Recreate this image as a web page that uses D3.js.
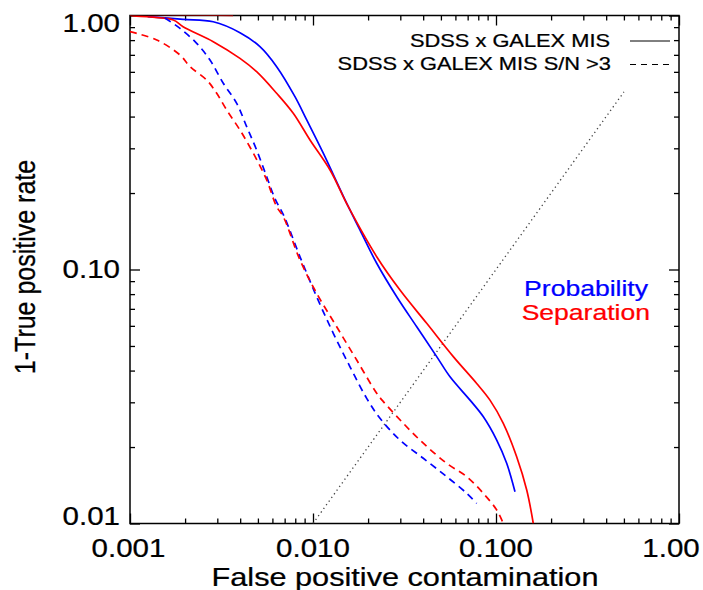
<!DOCTYPE html>
<html>
<head>
<meta charset="utf-8">
<script src="https://cdn.jsdelivr.net/npm/d3@7"></script>
<style>
  body { margin: 0; background: #fff; }
  text { font-family: "Liberation Sans", Arial, sans-serif; }
</style>
</head>
<body>
<div id="chart"></div>
<script>
// tick values and labels
var xTicks = [0.001, 0.01, 0.1, 1];
var xTickLabels = ["0.001", "0.010", "0.100", "1.00"];
var yTicks = [0.01, 0.1, 1];
var yTickLabels = ["0.01", "0.10", "1.00"];

// [false positive contamination, 1 - true positive rate]
var probAll = [[0.00125, 0.99], [0.00195, 0.966], [0.00285, 0.945], [0.00399, 0.856],
  [0.00513, 0.754], [0.00633, 0.629], [0.00797, 0.479], [0.00924, 0.388],
  [0.01138, 0.287], [0.01529, 0.182], [0.01807, 0.143], [0.02229, 0.1058],
  [0.02868, 0.0781], [0.03688, 0.0595], [0.04742, 0.0454], [0.05608, 0.0378],
  [0.07211, 0.0306], [0.0853, 0.0263], [0.1009, 0.0213], [0.1144, 0.01726],
  [0.127, 0.01334]];

var sepAll = [[0.00366, 1.0], [0.001, 1.0], [0.001724, 0.96], [0.00195, 0.903],
  [0.00285, 0.789], [0.00399, 0.678], [0.00492, 0.601], [0.00633, 0.494],
  [0.0078, 0.412], [0.00963, 0.3236], [0.01239, 0.2465], [0.01559, 0.1767],
  [0.02229, 0.1123], [0.02988, 0.083], [0.04181, 0.0614], [0.05843, 0.0454],
  [0.07842, 0.0356], [0.0927, 0.0306], [0.1096, 0.0248], [0.1297, 0.01832],
  [0.1472, 0.01355], [0.1599, 0.01]];

var probSN3 = [[0.00155, 0.977], [0.001876, 0.89], [0.002314, 0.777], [0.002736, 0.668],
  [0.003234, 0.541], [0.003829, 0.451], [0.004341, 0.365], [0.00492, 0.2954],
  [0.005585, 0.2319], [0.0062, 0.19], [0.00694, 0.1624], [0.00849, 0.1123],
  [0.01047, 0.0781], [0.01291, 0.0561], [0.01593, 0.0414], [0.01965, 0.0311],
  [0.02323, 0.02596], [0.02988, 0.0213], [0.04006, 0.01806], [0.05377, 0.01529],
  [0.06917, 0.01315], [0.07842, 0.012]];

var sepSN3 = [[0.001, 0.864], [0.0014, 0.801], [0.001876, 0.699], [0.002128, 0.629],
  [0.002625, 0.557], [0.002977, 0.494], [0.003376, 0.4246], [0.00399, 0.354],
  [0.004718, 0.287], [0.005585, 0.2251], [0.00633, 0.1767], [0.00688, 0.1614],
  [0.00849, 0.109], [0.01047, 0.0806], [0.01347, 0.0595], [0.01733, 0.044],
  [0.02229, 0.03256], [0.02423, 0.0302], [0.03114, 0.0248], [0.04006, 0.0207],
  [0.05377, 0.01726], [0.06917, 0.01529], [0.0852, 0.01315], [0.1009, 0.0113],
  [0.1096, 0.01]];

var diagonal = [[0.01, 0.01], [0.5, 0.5]];

var legendLabels = ["SDSS x GALEX MIS", "SDSS x GALEX MIS S/N >3"];
var methodLabels = ["Probability", "Separation"];

var svgWidth = 703;
var svgHeight = 590;
var margin = { top: 15.5, right: 24, bottom: 66.5, left: 130 };
var width = svgWidth - margin.left - margin.right;
var height = svgHeight - margin.top - margin.bottom;
var sx = 1.18; // text is drawn a bit wider than normal

var svg = d3.select("#chart")
  .append("svg")
  .attr("width", svgWidth)
  .attr("height", svgHeight);

var chartGroup = svg.append("g")
  .attr("transform", `translate(${margin.left}, ${margin.top})`);

var x = d3.scaleLog().domain([0.001, 1]).range([0, width]);
var y = d3.scaleLog().domain([0.01, 1]).range([height, 0]);

svg.append("defs").append("clipPath").attr("id", "clip")
  .append("rect").attr("width", width).attr("height", height);

// minor + major ticks on all four sides, pointing inward
var xMinor = x.ticks().filter(d => xTicks.indexOf(d) < 0);
var yMinor = y.ticks().filter(d => yTicks.indexOf(d) < 0);

function addAxis(axis, tr) {
  var g = chartGroup.append("g").attr("transform", tr).call(axis);
  g.selectAll("text").remove();
  g.selectAll("line").attr("stroke", "#000").attr("stroke-width", 1.3);
  g.select(".domain").remove();
}
addAxis(d3.axisBottom(x).tickValues(xTicks).tickSizeInner(-10).tickSizeOuter(0), `translate(0,${height})`);
addAxis(d3.axisBottom(x).tickValues(xMinor).tickSizeInner(-5).tickSizeOuter(0), `translate(0,${height})`);
addAxis(d3.axisTop(x).tickValues(xTicks).tickSizeInner(-10).tickSizeOuter(0), "translate(0,0)");
addAxis(d3.axisTop(x).tickValues(xMinor).tickSizeInner(-5).tickSizeOuter(0), "translate(0,0)");
addAxis(d3.axisLeft(y).tickValues(yTicks).tickSizeInner(-10).tickSizeOuter(0), "translate(0,0)");
addAxis(d3.axisLeft(y).tickValues(yMinor).tickSizeInner(-5).tickSizeOuter(0), "translate(0,0)");
addAxis(d3.axisRight(y).tickValues(yTicks).tickSizeInner(-10).tickSizeOuter(0), `translate(${width},0)`);
addAxis(d3.axisRight(y).tickValues(yMinor).tickSizeInner(-5).tickSizeOuter(0), `translate(${width},0)`);

chartGroup.append("rect")
  .attr("width", width)
  .attr("height", height)
  .attr("fill", "none")
  .attr("stroke", "#000")
  .attr("stroke-width", 1.5);

// stretched text helper
function addText(px, py, str, size, anchor, color) {
  return svg.append("text")
    .attr("transform", `translate(${px},${py}) scale(${sx},1)`)
    .attr("text-anchor", anchor)
    .attr("font-size", size + "px")
    .attr("fill", color || "#000")
    .attr("stroke", color || "#000")
    .attr("stroke-width", 0.25)
    .text(str);
}

// tick labels
xTicks.forEach(function(v, i) {
  var shift = i === xTicks.length - 1 ? -8 : (i === 0 ? -1.5 : 0);
  addText(margin.left + x(v) + shift, 557, xTickLabels[i], 25, "middle");
});
yTicks.forEach(function(v, i) {
  var ty = margin.top + y(v);
  var dy = i === 0 ? 1.5 : (i === yTicks.length - 1 ? 16 : 8.5);
  addText(120, ty + dy, yTickLabels[i], 25, "end");
});

// axis titles
addText(405, 586, "False positive contamination", 26, "middle");
svg.append("text")
  .attr("transform", `translate(35,267) scale(${sx},1) rotate(-90)`)
  .attr("text-anchor", "middle")
  .attr("font-size", "25px")
  .attr("fill", "#000")
  .attr("stroke", "#000")
  .attr("stroke-width", 0.25)
  .text("1-True positive rate");

// curves
var line = d3.line().x(d => x(d[0])).y(d => y(d[1])).curve(d3.curveCatmullRom.alpha(0.5));
var plot = chartGroup.append("g").attr("clip-path", "url(#clip)");

plot.append("path").datum(diagonal)
  .attr("d", d3.line().x(d => x(d[0])).y(d => y(d[1])))
  .attr("fill", "none")
  .attr("stroke", "#444").attr("stroke-width", 1.3)
  .attr("stroke-dasharray", "1.3,3.2");

var curves = [
  { data: probAll, color: "#0000ff", dash: null },
  { data: sepAll, color: "#ff0000", dash: null },
  { data: probSN3, color: "#0000ff", dash: "7,5" },
  { data: sepSN3, color: "#ff0000", dash: "7,5" }
];
curves.forEach(function(c) {
  plot.append("path").datum(c.data)
    .attr("d", line)
    .attr("fill", "none")
    .attr("stroke", c.color)
    .attr("stroke-width", 1.7)
    .attr("stroke-linejoin", "round")
    .attr("stroke-dasharray", c.dash);
});

// legend
addText(610, 46.5, legendLabels[0], 18.5, "end");
addText(611, 70, legendLabels[1], 18.5, "end");
svg.append("line").attr("x1", 630).attr("x2", 670).attr("y1", 41).attr("y2", 41)
  .attr("stroke", "#000").attr("stroke-width", 1);
svg.append("line").attr("x1", 630).attr("x2", 670).attr("y1", 64.5).attr("y2", 64.5)
  .attr("stroke", "#000").attr("stroke-width", 1).attr("stroke-dasharray", "6,5");

addText(648, 296, methodLabels[0], 22.5, "end", "#0000ff");
addText(650, 319.5, methodLabels[1], 22.5, "end", "#ff0000");
</script>
</body>
</html>
